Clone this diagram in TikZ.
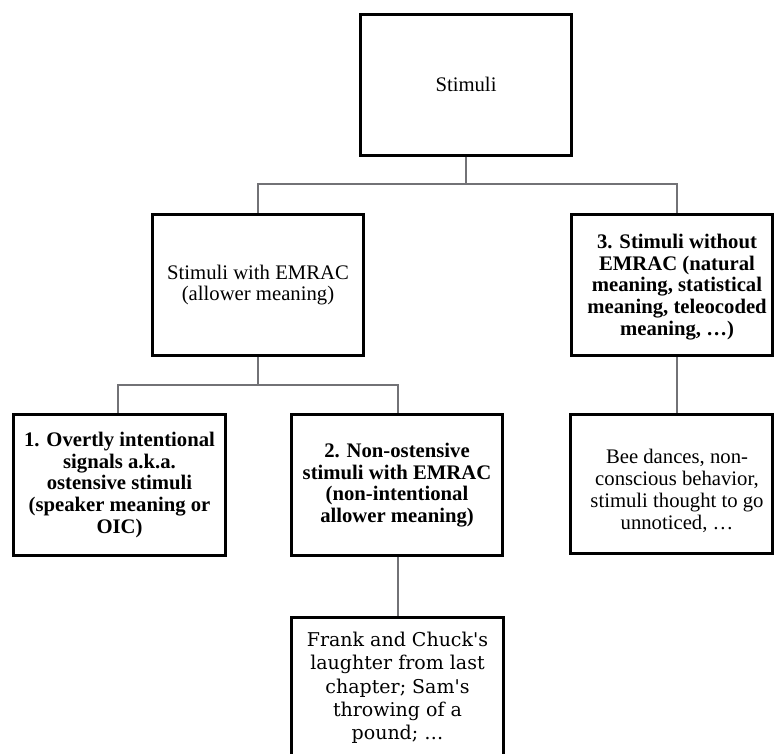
\documentclass[tikz,border=0pt]{standalone}
\usepackage{fontspec}
\setmainfont{Liberation Serif}
\newfontfamily\schoolfont[Ligatures=TeXOff]{DejaVu Serif}
\definecolor{linkgray}{RGB}{114,114,118}
\begin{document}
\begin{tikzpicture}[x=1pt,y=-1pt,
  box/.style={draw=black, line width=3pt, fill=white, minimum width=211pt,
    minimum height=141pt, align=center, inner sep=0pt,
    font=\fontsize{20.7}{21.8}\selectfont},
  boldbox/.style={box, font=\fontsize{20.7}{21.6}\selectfont\bfseries},
  plaintext/.style={align=center, inner sep=0pt, font=\fontsize{20.7}{21.8}\selectfont},
  link/.style={draw=linkgray, line width=2.4pt}]
\useasboundingbox (0,0) rectangle (775,753);
\clip (0,0) rectangle (775,753);

% bus points of the tree
\coordinate (busA) at (466,184);
\coordinate (busB) at (258,385);

% boxes
\node[box] (root) at (466,84.5) {Stimuli};
\node[box] (emrac) at (258,285) {Stimuli with EMRAC\\(allower meaning)};
\node[box, minimum width=201pt] (three) at (672,285) {};
\node[plaintext, font=\fontsize{20.7}{21.6}\selectfont\bfseries] (threetext) at ([xshift=5pt,yshift=-2pt]three.center)
  {3. Stimuli without\\EMRAC (natural\\meaning, statistical\\meaning, teleocoded\\meaning, …)};
\node[boldbox, minimum width=212pt] (one) at (119.5,485)
  {1. Overtly intentional\\signals a.k.a.\\ostensive stimuli\\(speaker meaning or\\OIC)};
\node[boldbox] (two) at (397,485)
  {2. Non-ostensive\\stimuli with EMRAC\\(non-intentional\\allower meaning)};
\node[box, minimum width=202pt, minimum height=139pt] (bee) at (671.5,484) {};
\node[plaintext] (beetext) at ([xshift=5.5pt,yshift=-7pt]bee.center)
  {Bee dances, non-\\conscious behavior,\\stimuli thought to go\\unnoticed, …};
\node[box, minimum width=212pt,
  font=\schoolfont\fontsize{19}{23.3}\selectfont] (frank) at (397.5,688)
  {Frank and Chuck's\\laughter from last\\chapter; Sam's\\throwing of a\\pound; …};

% connectors
\draw[link] (root.south) -- (busA) -| (emrac.north);
\draw[link] (busA) -| ([xshift=5pt]three.north);
\draw[link] (emrac.south) -- (busB) -| ([xshift=-1.5pt]one.north);
\draw[link] (busB) -| ([xshift=1pt]two.north);
\draw[link] ([xshift=5pt]three.south) -- ([xshift=5.5pt]bee.north);
\draw[link] ([xshift=1pt]two.south) -- ([xshift=0.5pt]frank.north);
\end{tikzpicture}
\end{document}
